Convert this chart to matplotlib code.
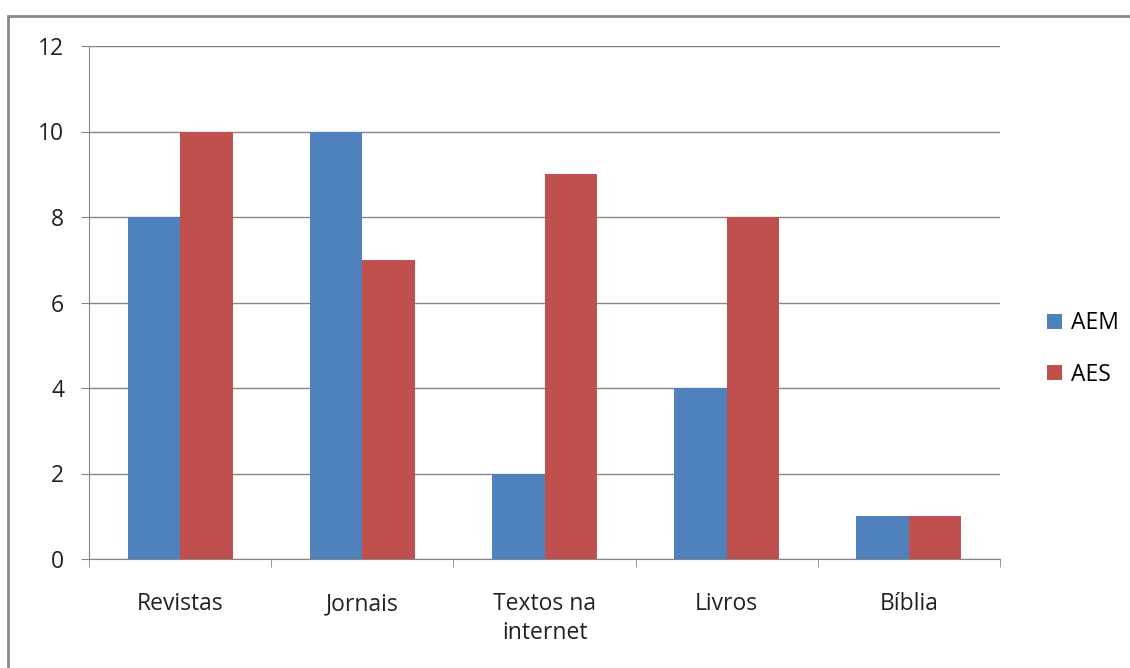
import matplotlib.pyplot as plt
import numpy as np
from matplotlib.lines import Line2D

BLUE = "#4F81BD"
RED = "#C0504D"
GRID = "#868686"

categories = ["Revistas", "Jornais", "Textos na\ninternet", "Livros", "Bíblia"]
aem = [8, 10, 2, 4, 1]
aes = [10, 7, 9, 8, 1]

plt.rcParams['font.family'] = ['Open Sans', 'DejaVu Sans']
FS = 16.5

fig = plt.figure(figsize=(11.3, 6.68), dpi=100)
ax = fig.add_axes([89 / 1130, 1 - 559 / 668, 911 / 1130, 513 / 668])

# outer chart border (only top/left visible in the reference)
bx, by = 7.5 / 1130, 1 - 16 / 668
fig.add_artist(Line2D([bx, bx, 1.0], [0.0, by, by], transform=fig.transFigure,
                      color="#888888", lw=2, solid_joinstyle='miter'))

x = np.arange(len(categories))
w = 0.288
ax.bar(x - w / 2, aem, w, color=BLUE, label="AEM", zorder=3)
ax.bar(x + w / 2, aes, w, color=RED, label="AES", zorder=3)

ax.set_xlim(-0.5, len(categories) - 0.5)
ax.set_ylim(0, 12)
ax.set_yticks(range(0, 13, 2))
ax.yaxis.grid(True, color=GRID, lw=1, zorder=0)
ax.set_axisbelow(True)

ax.set_xticks(x)
ax.set_xticklabels(categories, fontsize=FS, color="#222222", linespacing=1.25)
ax.tick_params(axis='x', length=0, pad=24)
ax.set_xticks(np.arange(-0.5, len(categories)), minor=True)
ax.tick_params(axis='x', which='minor', length=6, color=GRID)
ax.tick_params(axis='y', length=6, color=GRID, labelsize=FS, labelcolor="#222222", pad=12)

for s in ['top', 'right']:
    ax.spines[s].set_visible(False)
for s in ['left', 'bottom']:
    ax.spines[s].set_color(GRID)

ax.legend(loc='center left', bbox_to_anchor=(1026 / 1130, 1 - 349 / 668),
          bbox_transform=fig.transFigure, frameon=False, fontsize=FS,
          handlelength=0.65, handleheight=0.65, handletextpad=0.4, labelspacing=1.2)

plt.savefig("out.png", dpi=100, facecolor="white")
